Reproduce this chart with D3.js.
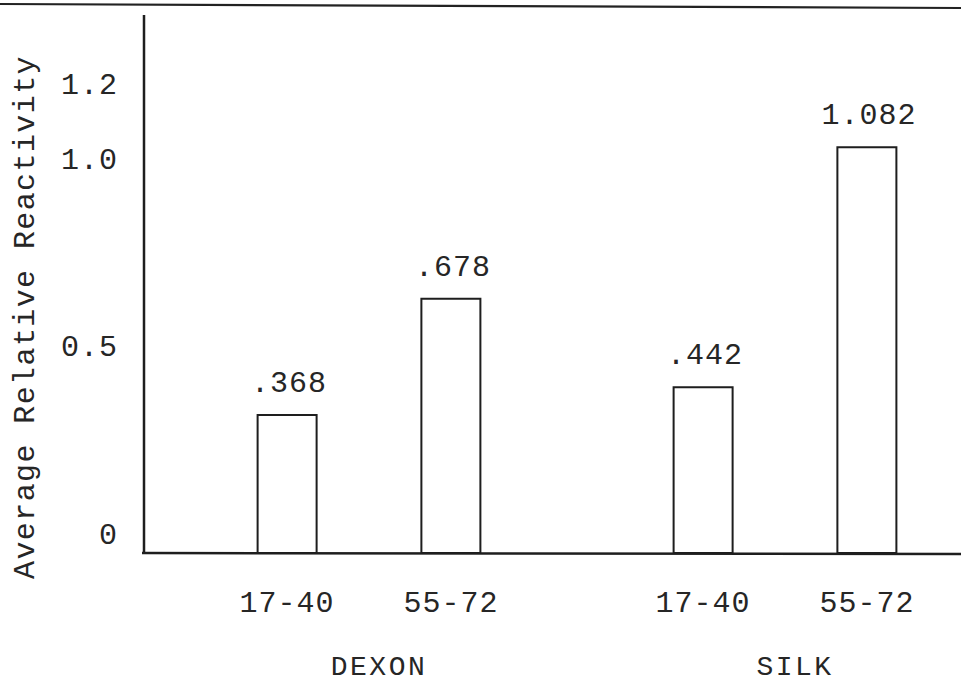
<!DOCTYPE html>
<html>
<head>
<meta charset="utf-8">
<script src="https://cdn.jsdelivr.net/npm/d3@7"></script>
<style>
  html, body { margin: 0; padding: 0; background: #fff; }
  svg { display: block; }
  text { font-family: "Liberation Mono", "Courier New", monospace; fill: #262626; }
</style>
</head>
<body>
<div id="chart"></div>
<script>
// Data
const groups = ['DEXON', 'SILK'];
const ages = ['17-40', '55-72'];
const dexonValues = [0.368, 0.678];
const silkValues = [0.442, 1.082];
const valueLabels = ['.368', '.678', '.442', '1.082'];
const yTicks = [0, 0.5, 1.0, 1.2];
const yTickLabels = ['0', '0.5', '1.0', '1.2'];

const width = 961;
const height = 686;

const bars = [];
[dexonValues, silkValues].forEach((vals, gi) => {
  vals.forEach((v, ai) => {
    bars.push({ group: groups[gi], age: ages[ai], value: v, label: valueLabels[gi * 2 + ai] });
  });
});

const svg = d3.select('#chart')
  .append('svg')
  .attr('width', width)
  .attr('height', height);

// Scales
const x0 = d3.scaleBand()
  .domain(groups)
  .range([161, 993]);

const x1 = d3.scalePoint()
  .domain(ages)
  .range([0, x0.bandwidth()])
  .padding(0.77);

const y = d3.scaleLinear()
  .domain([0, 1.3])
  .range([553, 65.5]);

const barWidth = 59;
const xc = d => x0(d.group) + x1(d.age);

// Top rule across the page (slightly skewed on the scan)
svg.append('line')
  .attr('x1', 0).attr('x2', width)
  .attr('y1', 4).attr('y2', 8)
  .attr('stroke', '#222')
  .attr('stroke-width', 2.2);

// Bars - open rectangles
svg.selectAll('.bar')
  .data(bars)
  .enter()
  .append('rect')
  .attr('class', 'bar')
  .attr('x', d => xc(d) - barWidth / 2)
  .attr('y', d => y(d.value))
  .attr('width', barWidth)
  .attr('height', d => y(0) - y(d.value))
  .attr('fill', 'none')
  .attr('stroke', '#1e1e1e')
  .attr('stroke-width', 2);

// Value labels
svg.selectAll('.value-label')
  .data(bars)
  .enter()
  .append('text')
  .attr('class', 'value-label')
  .attr('x', d => xc(d) + 2)
  .attr('y', d => y(d.value) - 23)
  .attr('text-anchor', 'middle')
  .attr('font-size', '30px')
  .style('letter-spacing', '1px')
  .text(d => d.label);

// Y axis (labels only, the line runs above the scale so it is drawn by hand)
const yAxis = svg.append('g')
  .attr('transform', 'translate(118,-10)')
  .call(d3.axisLeft(y).tickValues(yTicks).tickSize(0).tickPadding(0)
    .tickFormat((d, i) => yTickLabels[i]));

yAxis.select('.domain').remove();
yAxis.selectAll('text')
  .attr('dy', 0)
  .attr('font-size', '30px')
  .attr('font-family', '"Liberation Mono", monospace')
  .attr('fill', '#262626')
  .style('letter-spacing', '1px');

svg.append('line')
  .attr('x1', 144).attr('x2', 144)
  .attr('y1', 15).attr('y2', y(0) + 1)
  .attr('stroke', '#1e1e1e')
  .attr('stroke-width', 2.5);

// Baseline
svg.append('line')
  .attr('x1', 142).attr('x2', width)
  .attr('y1', y(0)).attr('y2', y(0) + 1)
  .attr('stroke', '#1e1e1e')
  .attr('stroke-width', 2.5);

// Age labels
svg.selectAll('.age-label')
  .data(bars)
  .enter()
  .append('text')
  .attr('class', 'age-label')
  .attr('x', d => xc(d))
  .attr('y', 612)
  .attr('text-anchor', 'middle')
  .attr('font-size', '30px')
  .style('letter-spacing', '1px')
  .text(d => d.age);

// Group labels
svg.selectAll('.group-label')
  .data(groups)
  .enter()
  .append('text')
  .attr('class', 'group-label')
  .attr('x', d => x0(d) + x0.bandwidth() / 2 + 10)
  .attr('y', 675)
  .attr('text-anchor', 'middle')
  .attr('font-size', '28px')
  .style('letter-spacing', '2.5px')
  .text(d => d);

// Y title
svg.append('text')
  .attr('transform', 'translate(34,317) rotate(-90)')
  .attr('text-anchor', 'middle')
  .attr('font-size', '30px')
  .style('letter-spacing', '1.4px')
  .text('Average Relative Reactivity');
</script>
</body>
</html>
